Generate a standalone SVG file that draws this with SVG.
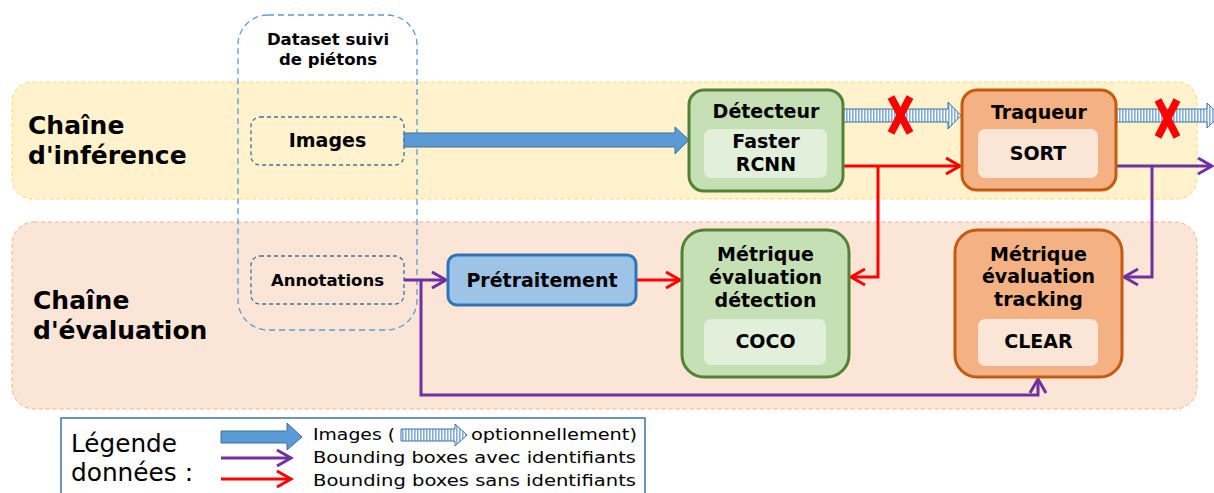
<svg xmlns="http://www.w3.org/2000/svg" width="1214" height="493" viewBox="0 0 1214 493">
  <style>
    .b { font-family: "DejaVu Sans", "Liberation Sans", sans-serif; font-weight: bold; fill: #000; text-anchor: middle; }
    .band-lbl { font-family: "DejaVu Sans", "Liberation Sans", sans-serif; font-weight: bold; font-size: 25px; fill: #000; }
    .node { font-size: 19px; }
    .small { font-size: 16.5px; }
    .leg { font-family: "DejaVu Sans", "Liberation Sans", sans-serif; font-size: 16px; fill: #000; }
    .leg-title { font-family: "DejaVu Sans", "Liberation Sans", sans-serif; font-size: 24px; fill: #000; }
    .green { fill: #c5e0b4; stroke: #548235; stroke-width: 3; }
    .green-in { fill: #e2efda; }
    .orange { fill: #f4b183; stroke: #c55a11; stroke-width: 3; }
    .orange-in { fill: #fbe5d6; }
    .red { fill: none; stroke: #ff0000; stroke-width: 3; }
    .purple { fill: none; stroke: #7030a0; stroke-width: 3; }
    .cross { stroke: #ff0000; stroke-width: 7.5; stroke-linecap: butt; }
  </style>
  <defs>
    <pattern id="hatch" width="3" height="10" patternUnits="userSpaceOnUse">
      <rect width="3" height="10" fill="#ffffff"/>
      <rect width="1.6" height="10" fill="#7fade0"/>
    </pattern>
    <marker id="ahRed" viewBox="-2 -10 20 20" markerWidth="20" markerHeight="20" refX="14" refY="0" orient="auto" markerUnits="userSpaceOnUse" overflow="visible">
      <path d="M0,-8 L14,0 L0,8" fill="none" stroke="#ff0000" stroke-width="3"/>
    </marker>
    <marker id="ahPurple" viewBox="-2 -10 20 20" markerWidth="20" markerHeight="20" refX="14" refY="0" orient="auto" markerUnits="userSpaceOnUse" overflow="visible">
      <path d="M0,-8 L14,0 L0,8" fill="none" stroke="#7030a0" stroke-width="3"/>
    </marker>
  </defs>

  <!-- background bands -->
  <g id="band-inference">
    <rect x="12" y="82" width="1185" height="117" rx="20" fill="#fff2cc" stroke="#ffd966" stroke-width="1" stroke-dasharray="4,3"/>
    <text class="band-lbl" x="28" y="134">Chaîne</text>
    <text class="band-lbl" x="28" y="164">d'inférence</text>
  </g>
  <g id="band-evaluation">
    <rect x="12" y="222" width="1185" height="187" rx="22" fill="#fbe5d6" stroke="#f4b183" stroke-width="1" stroke-dasharray="4,3"/>
    <text class="band-lbl" x="33" y="309">Chaîne</text>
    <text class="band-lbl" x="33" y="339">d'évaluation</text>
  </g>

  <!-- dataset container -->
  <g id="dataset">
    <rect x="238" y="15" width="179" height="315" rx="30" fill="none" stroke="#5b9bd5" stroke-width="1.3" stroke-dasharray="6,4"/>
    <text class="b small" x="328" y="45">Dataset suivi</text>
    <text class="b small" x="328" y="65">de piétons</text>
  </g>
  <g id="images">
    <rect x="251" y="117" width="153" height="48" rx="9" fill="none" stroke="#41719c" stroke-width="1.3" stroke-dasharray="4,3"/>
    <text class="b node" x="327.5" y="147">Images</text>
  </g>
  <g id="annotations">
    <rect x="251" y="256" width="153" height="48" rx="9" fill="none" stroke="#41719c" stroke-width="1.3" stroke-dasharray="4,3"/>
    <text class="b small" x="327.5" y="286">Annotations</text>
  </g>

  <!-- connectors -->
  <g id="connectors">
    <polygon points="404,133 675,133 675,127 689,140 675,154 675,147 404,147" fill="#5b9bd5" stroke="#41719c" stroke-width="1"/>
    <polygon points="843,109 948,109 948,102 961,115.5 948,129 948,122 843,122" fill="url(#hatch)" stroke="#41719c" stroke-width="1"/>
    <polygon points="1116,109 1207,109 1207,103 1220,115.5 1207,128 1207,122 1116,122" fill="url(#hatch)" stroke="#41719c" stroke-width="1"/>
    <path class="red" d="M843,166 H960" marker-end="url(#ahRed)"/>
    <path class="red" d="M878,166 V277 H851" marker-end="url(#ahRed)"/>
    <path class="red" d="M636,280 H680" marker-end="url(#ahRed)"/>
    <path class="purple" d="M404,280 H446" marker-end="url(#ahPurple)"/>
    <path class="purple" d="M421,280 V395 H1038 V379" marker-end="url(#ahPurple)"/>
    <path class="purple" d="M1116,166 H1212" marker-end="url(#ahPurple)"/>
    <path class="purple" d="M1152,166 V277 H1124" marker-end="url(#ahPurple)"/>
    <!-- disabled optional image flows -->
    <g class="cross">
      <line x1="891" y1="97" x2="910" y2="133"/>
      <line x1="910" y1="97" x2="891" y2="133"/>
      <line x1="1158" y1="100" x2="1177" y2="137"/>
      <line x1="1177" y1="100" x2="1158" y2="137"/>
    </g>
  </g>

  <!-- processing nodes -->
  <g id="detecteur">
    <rect class="green" x="689" y="90" width="154" height="101" rx="15"/>
    <rect class="green-in" x="704" y="129" width="123" height="49" rx="7"/>
    <text class="b node" x="766" y="118">Détecteur</text>
    <text class="b node" x="766" y="148">Faster</text>
    <text class="b node" x="766" y="171">RCNN</text>
  </g>
  <g id="traqueur">
    <rect class="orange" x="962" y="90" width="154" height="100" rx="15"/>
    <rect class="orange-in" x="978" y="129" width="120" height="49" rx="7"/>
    <text class="b node" x="1039" y="119">Traqueur</text>
    <text class="b node" x="1038" y="160">SORT</text>
  </g>
  <g id="pretraitement">
    <rect x="448" y="255" width="188" height="50" rx="9" fill="#9dc3e6" stroke="#2e75b6" stroke-width="3"/>
    <text class="b node" x="542" y="287">Prétraitement</text>
  </g>
  <g id="metrique-detection">
    <rect class="green" x="682" y="230" width="167" height="147" rx="22"/>
    <rect class="green-in" x="704" y="319" width="122" height="46" rx="7"/>
    <text class="b node" x="765.5" y="261">Métrique</text>
    <text class="b node" x="765.5" y="284">évaluation</text>
    <text class="b node" x="765.5" y="307">détection</text>
    <text class="b node" x="765.5" y="348">COCO</text>
  </g>
  <g id="metrique-tracking">
    <rect class="orange" x="955" y="230" width="167" height="147" rx="22"/>
    <rect class="orange-in" x="978" y="319" width="120" height="47" rx="7"/>
    <text class="b node" x="1038.5" y="261">Métrique</text>
    <text class="b node" x="1038.5" y="283">évaluation</text>
    <text class="b node" x="1038.5" y="306">tracking</text>
    <text class="b node" x="1038.5" y="348">CLEAR</text>
  </g>

  <!-- legend -->
  <g id="legende">
    <rect x="61" y="418" width="584" height="90" fill="#ffffff" stroke="#41719c" stroke-width="1.5"/>
    <text class="leg-title" x="71" y="452" textLength="106" lengthAdjust="spacingAndGlyphs">Légende</text>
    <text class="leg-title" x="71" y="481" textLength="122" lengthAdjust="spacingAndGlyphs">données :</text>
    <polygon points="221,431 287,431 287,423 302,437 287,450 287,443 221,443" fill="#5b9bd5" stroke="#41719c" stroke-width="1"/>
    <path class="purple" d="M221,458 H291" marker-end="url(#ahPurple)"/>
    <path class="red" d="M221,479 H291" marker-end="url(#ahRed)"/>
    <text class="leg" x="313" y="440" textLength="82" lengthAdjust="spacingAndGlyphs">Images (</text>
    <polygon points="401,429 455,429 455,424 467,435 455,446 455,441 401,441" fill="url(#hatch)" stroke="#41719c" stroke-width="1"/>
    <text class="leg" x="471" y="440" textLength="166" lengthAdjust="spacingAndGlyphs">optionnellement)</text>
    <text class="leg" x="313" y="463" textLength="323" lengthAdjust="spacingAndGlyphs">Bounding boxes avec identifiants</text>
    <text class="leg" x="313" y="486" textLength="323" lengthAdjust="spacingAndGlyphs">Bounding boxes sans identifiants</text>
  </g>
</svg>
